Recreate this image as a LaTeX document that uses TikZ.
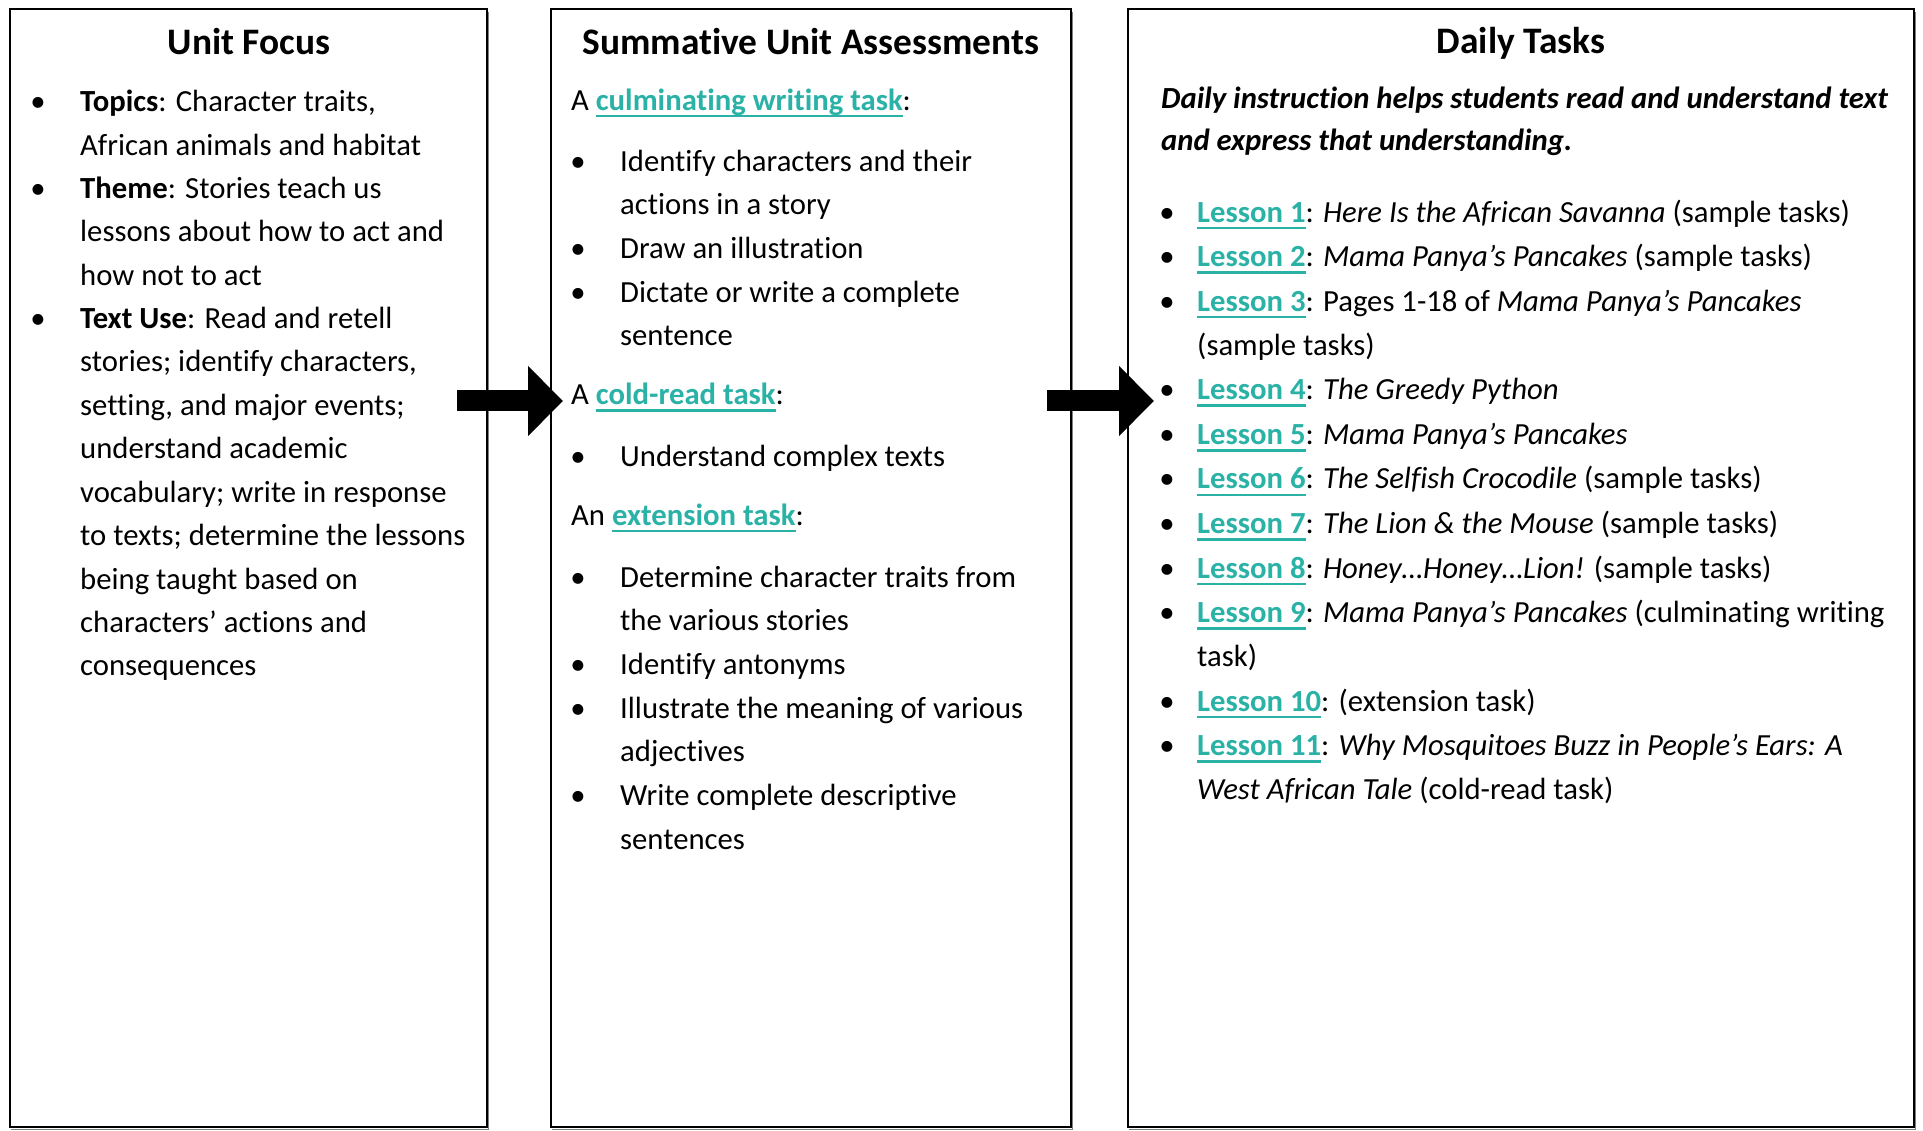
\documentclass[tikz,border=0pt]{standalone}
\usepackage{fontspec}
\setmainfont{Carlito}[Ligatures={TeX,NoCommon}]
\usetikzlibrary{arrows.meta}
\definecolor{linkteal}{RGB}{43,178,167}
% underlined teal link text
\newcommand\lnk[1]{{\color{linkteal}\bfseries\setbox0=\hbox{#1}\rlap{\rule[-7pt]{\wd0}{2.5pt}}\box0}}
\newcommand\bodysize{\fontsize{30.7}{36}\selectfont}
\newcommand\titlesize{\fontsize{37.4}{44}\selectfont\bfseries}
\begin{document}
\begin{tikzpicture}[x=1pt,y=-1pt,
  panel/.style={draw=black,line width=2pt,fill=white,inner sep=0pt},
  txt/.style={inner sep=0pt,anchor=base west,font=\bodysize},
  ttl/.style={inner sep=0pt,anchor=base,font=\titlesize},
  blt/.style={inner sep=0pt,anchor=base,font=\bodysize},
  bigarrow/.style={line width=21pt,-{Triangle[length=35pt,width=68pt]}}]
\useasboundingbox (0,0) rectangle (1923,1131);
\fill[white] (0,0) rectangle (1923,1131);

% panel shadows along bottom and right edges
\foreach \l/\r in {10/487,551/1071,1128/1914}{
  \draw[gray,line width=1.5pt] (\l+1,1129.5) -- (\r+1.5,1129.5) -- (\r+1.5,12);
}
% the three panels
\node[panel,minimum width=477pt,minimum height=1118pt] (unit) at (248.5,568) {};
\node[panel,minimum width=520pt,minimum height=1118pt] (summ) at (811,568) {};
\node[panel,minimum width=786pt,minimum height=1118pt] (daily) at (1521,568) {};

% ---- Unit Focus ----
\node[ttl] (ut) at (249,55) {Unit Focus};
\node[blt] (ub1) at (38,112) {•};
\node[blt] (ub2) at (38,198.5) {•};
\node[blt] (ub3) at (38,328.5) {•};
\node[txt] (u1) at (80,112) {\textbf{Topics}: Character traits,};
\node[txt] (u2) at (80,155.5) {African animals and habitat};
\node[txt] (u3) at (80,198.5) {\textbf{Theme}: Stories teach us};
\node[txt] (u4) at (80,242) {lessons about how to act and};
\node[txt] (u5) at (80,285.5) {how not to act};
\node[txt] (u6) at (80,328.5) {\textbf{Text Use}: Read and retell};
\node[txt] (u7) at (80,372) {stories; identify characters,};
\node[txt] (u8) at (80,415.5) {setting, and major events;};
\node[txt] (u9) at (80,459) {understand academic};
\node[txt] (u10) at (80,502) {vocabulary; write in response};
\node[txt] (u11) at (80,545.5) {to texts; determine the lessons};
\node[txt] (u12) at (80,589) {being taught based on};
\node[txt] (u13) at (80,632) {characters’ actions and};
\node[txt] (u14) at (80,675.5) {consequences};

% ---- Summative Unit Assessments ----
\node[ttl] (st) at (811,55) {Summative Unit Assessments};
\node[txt] (sh1) at (571,110.5) {A \lnk{culminating writing task}:};
\node[blt] (sb1) at (578,171.5) {•};
\node[txt] (s1) at (620,171.5) {Identify characters and their};
\node[txt] (s2) at (620,214.5) {actions in a story};
\node[blt] (sb2) at (578,258.5) {•};
\node[txt] (s3) at (620,258.5) {Draw an illustration};
\node[blt] (sb3) at (578,302.5) {•};
\node[txt] (s4) at (620,302.5) {Dictate or write a complete};
\node[txt] (s5) at (620,345.5) {sentence};
\node[txt] (sh2) at (571,405) {A \lnk{cold-read task}:};
\node[blt] (sb4) at (578,466.5) {•};
\node[txt] (s6) at (620,466.5) {Understand complex texts};
\node[txt] (sh3) at (571,525) {An \lnk{extension task}:};
\node[blt] (sb5) at (578,587) {•};
\node[txt] (s7) at (620,587) {Determine character traits from};
\node[txt] (s8) at (620,630) {the various stories};
\node[blt] (sb6) at (578,674) {•};
\node[txt] (s9) at (620,674) {Identify antonyms};
\node[blt] (sb7) at (578,718) {•};
\node[txt] (s10) at (620,718) {Illustrate the meaning of various};
\node[txt] (s11) at (620,761) {adjectives};
\node[blt] (sb8) at (578,805) {•};
\node[txt] (s12) at (620,805) {Write complete descriptive};
\node[txt] (s13) at (620,849) {sentences};

% ---- Daily Tasks ----
\node[ttl] (dt) at (1521,54) {Daily Tasks};
\node[txt] (dh1) at (1161,109) {\textbf{\textit{Daily instruction helps students read and understand text}}};
\node[txt] (dh2) at (1161,151) {\textbf{\textit{and express that understanding.}}};
\foreach \y [count=\i] in {222.5,267,311.5,400,444.5,489,533.5,578,622.5,711,755.5}
  \node[blt] (db\i) at (1167,\y) {•};
\node[txt] (d1) at (1197,222.5) {\lnk{Lesson 1}: \textit{Here Is the African Savanna} (sample tasks)};
\node[txt] (d2) at (1197,267) {\lnk{Lesson 2}: \textit{Mama Panya’s Pancakes} (sample tasks)};
\node[txt] (d3) at (1197,311.5) {\lnk{Lesson 3}: Pages 1-18 of \textit{Mama Panya’s Pancakes}};
\node[txt] (d3b) at (1197,355.5) {(sample tasks)};
\node[txt] (d4) at (1197,400) {\lnk{Lesson 4}: \textit{The Greedy Python}};
\node[txt] (d5) at (1197,444.5) {\lnk{Lesson 5}: \textit{Mama Panya’s Pancakes}};
\node[txt] (d6) at (1197,489) {\lnk{Lesson 6}: \textit{The Selfish Crocodile} (sample tasks)};
\node[txt] (d7) at (1197,533.5) {\lnk{Lesson 7}: \textit{The Lion \& the Mouse} (sample tasks)};
\node[txt] (d8) at (1197,578) {\lnk{Lesson 8}: \textit{Honey…Honey…Lion!} (sample tasks)};
\node[txt] (d9) at (1197,622.5) {\lnk{Lesson 9}: \textit{Mama Panya’s Pancakes} (culminating writing};
\node[txt] (d9b) at (1197,666.5) {task)};
\node[txt] (d10) at (1197,711) {\lnk{Lesson 10}: (extension task)};
\node[txt] (d11) at (1197,755.5) {\lnk{Lesson 11}: \textit{Why Mosquitoes Buzz in People’s Ears: A}};
\node[txt] (d11b) at (1197,799.5) {\textit{West African Tale} (cold-read task)};

% ---- block arrows between the panels ----
\coordinate (a1from) at (457,401);
\coordinate (a1to) at (563,401);
\coordinate (a2from) at (1047,401);
\coordinate (a2to) at (1154,401);
\draw[bigarrow] (a1from) -- (a1to);
\draw[bigarrow] (a2from) -- (a2to);
\end{tikzpicture}
\end{document}
